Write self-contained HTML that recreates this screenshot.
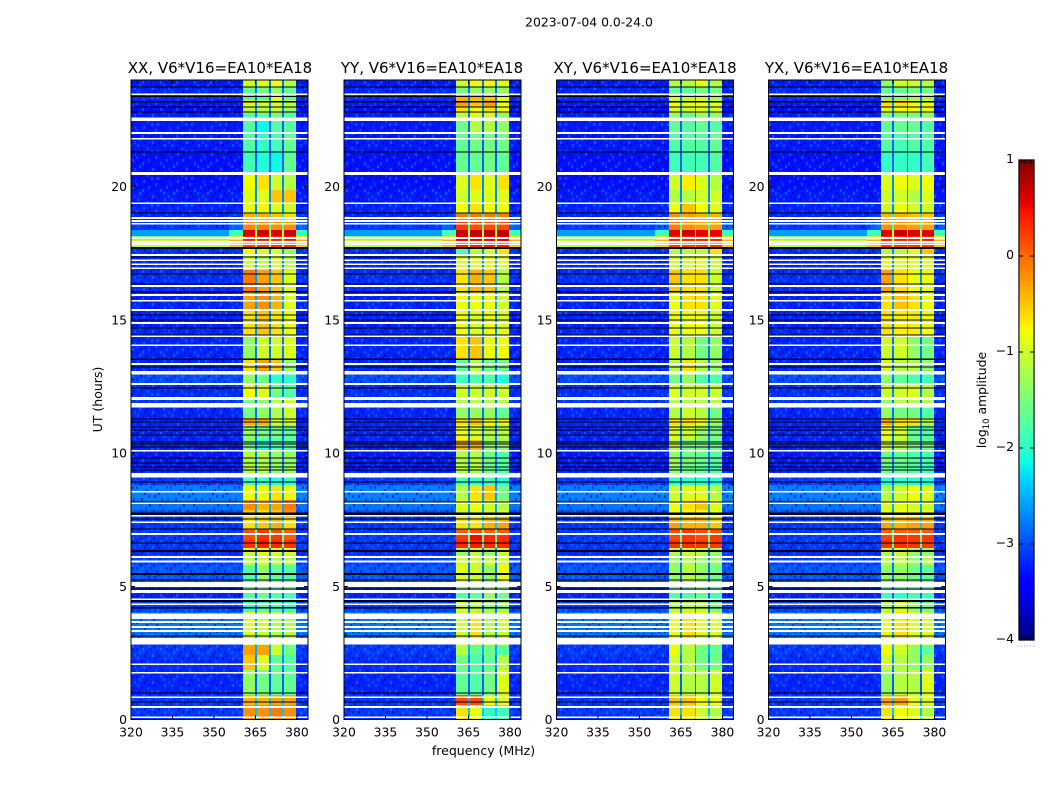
<!DOCTYPE html>
<html lang="en">
<head>
<meta charset="utf-8">
<title>2023-07-04 0.0-24.0</title>
<style>
  html, body { margin: 0; padding: 0; background: #fff; }
  svg { display: block; }
  text { font-family: "DejaVu Sans", "Liberation Sans", sans-serif; fill: #000; }
  .tick { font-size: 12.4px; }
  .title { font-size: 15px; text-anchor: middle; }
</style>
</head>
<body>
<svg id="chart" xmlns="http://www.w3.org/2000/svg" width="1050" height="800" viewBox="0 0 1050 800">
  <defs>
    <pattern id="speckle" patternUnits="userSpaceOnUse" width="34" height="27">
      <rect x="0" y="0" width="2" height="3" fill="#0000b0" opacity=".5"/>
      <rect x="6" y="0" width="2" height="3" fill="#0080ff" opacity=".55"/>
      <rect x="14" y="0" width="2" height="3" fill="#0000a0" opacity=".5"/>
      <rect x="24" y="0" width="2" height="3" fill="#00a0ff" opacity=".45"/>
      <rect x="30" y="0" width="2" height="3" fill="#0000c0" opacity=".45"/>
      <rect x="3" y="3" width="2" height="3" fill="#00a0ff" opacity=".45"/>
      <rect x="10" y="3" width="2" height="3" fill="#0000a0" opacity=".55"/>
      <rect x="20" y="3" width="2" height="3" fill="#0000b0" opacity=".5"/>
      <rect x="27" y="3" width="2" height="3" fill="#0088ff" opacity=".5"/>
      <rect x="8" y="6" width="2" height="3" fill="#0000b0" opacity=".5"/>
      <rect x="16" y="6" width="2" height="3" fill="#00b0ff" opacity=".45"/>
      <rect x="22" y="6" width="2" height="3" fill="#0000a0" opacity=".45"/>
      <rect x="32" y="6" width="2" height="3" fill="#0080ff" opacity=".45"/>
      <rect x="1" y="9" width="2" height="3" fill="#0088ff" opacity=".5"/>
      <rect x="12" y="9" width="2" height="3" fill="#0000c0" opacity=".5"/>
      <rect x="18" y="9" width="2" height="3" fill="#0000a0" opacity=".55"/>
      <rect x="28" y="9" width="2" height="3" fill="#00a8ff" opacity=".4"/>
      <rect x="5" y="12" width="2" height="3" fill="#0000a0" opacity=".55"/>
      <rect x="11" y="12" width="2" height="3" fill="#0090ff" opacity=".45"/>
      <rect x="25" y="12" width="2" height="3" fill="#0000b0" opacity=".5"/>
      <rect x="31" y="12" width="2" height="3" fill="#0000c0" opacity=".45"/>
      <rect x="2" y="15" width="2" height="3" fill="#0000b8" opacity=".45"/>
      <rect x="15" y="15" width="2" height="3" fill="#0090ff" opacity=".5"/>
      <rect x="21" y="15" width="2" height="3" fill="#00b8ff" opacity=".4"/>
      <rect x="29" y="15" width="2" height="3" fill="#0000a0" opacity=".5"/>
      <rect x="7" y="18" width="2" height="3" fill="#00a0ff" opacity=".45"/>
      <rect x="13" y="18" width="2" height="3" fill="#0000b0" opacity=".5"/>
      <rect x="23" y="18" width="2" height="3" fill="#0000a8" opacity=".5"/>
      <rect x="33" y="18" width="1" height="3" fill="#0088ff" opacity=".45"/>
      <rect x="0" y="21" width="2" height="3" fill="#0080ff" opacity=".4"/>
      <rect x="9" y="21" width="2" height="3" fill="#0000a0" opacity=".5"/>
      <rect x="19" y="21" width="2" height="3" fill="#0098ff" opacity=".45"/>
      <rect x="26" y="21" width="2" height="3" fill="#0000c0" opacity=".45"/>
      <rect x="4" y="24" width="2" height="3" fill="#0000b0" opacity=".5"/>
      <rect x="12" y="24" width="2" height="3" fill="#00a0ff" opacity=".4"/>
      <rect x="17" y="24" width="2" height="3" fill="#0000a8" opacity=".5"/>
      <rect x="30" y="24" width="2" height="3" fill="#0090ff" opacity=".45"/>
    </pattern>
  </defs>

  <text x="589" y="26.5" text-anchor="middle" style="font-size:12.4px">2023-07-04 0.0-24.0</text>

  <g id="panels"></g>

  <text class="title" x="220" y="73">XX, V6*V16=EA10*EA18</text>
  <text class="title" x="432" y="73">YY, V6*V16=EA10*EA18</text>
  <text class="title" x="645" y="73">XY, V6*V16=EA10*EA18</text>
  <text class="title" x="856.5" y="73">YX, V6*V16=EA10*EA18</text>

  <text x="483.5" y="755" text-anchor="middle" style="font-size:12.5px">frequency (MHz)</text>
  <text x="102" y="399.5" text-anchor="middle" transform="rotate(-90 102 399.5)" style="font-size:12.5px">UT (hours)</text>

  <g id="colorbar"></g>
  <text x="986" y="400" text-anchor="middle" transform="rotate(-90 986 400)" style="font-size:12.4px">log<tspan dy="3" style="font-size:8.5px">10</tspan><tspan dy="-3"> amplitude</tspan></text>
  <line x1="1018" y1="646" x2="1035" y2="646" stroke="#999" stroke-width="1" stroke-dasharray="1 2"/>
</svg>

<script>
// Tick values and labels
const xTicksMHz = [320, 335, 350, 365, 380];
const yTicksUT = [0, 5, 10, 15, 20];
const colorbarTicks = [-4, -3, -2, -1, 0, 1];
const colorbarTickLabels = ['\u22124', '\u22123', '\u22122', '\u22121', '0', '1'];

// Time segment boundaries (UT hours), top to bottom: 55 edges bound 54 rows
const segmentEdgesUT = [24,23.74,23.47,23.25,22.99,22.76,22.57,21.97,21.34,20.47,19.87,19.38,19.01,18.67,18.37,18.15,18.00,17.81,17.69,17.43,16.87,16.08,15.37,14.39,13.49,13.04,12.55,12.10,11.69,11.31,11.05,10.49,10.04,9.29,9.10,8.80,8.24,7.86,7.60,7.15,7.00,6.74,6.44,6.17,5.80,5.16,4.52,4.03,3.06,2.80,2.42,1.86,0.92,0.54,0];

// Frequency ranges (MHz)
const backgroundMHz = [320, 355.5];
const shoulderLeftMHz = [355.5, 360.5];
const shoulderRightMHz = [379.8, 384];
const subbandsMHz = [[360.5,364.7],[365.5,369.9],[370.5,374.7],[375.4,379.8]];
const gapsMHz = [[364.7,365.5],[369.9,370.5],[374.7,375.4]];

// log10 amplitude per time segment
const backgroundLevels = [-3.25,-3.2,-3.15,-3.25,-3.3,-3.25,-3.25,-3.25,-3.3,-3.3,-3.25,-3.2,-3.2,-3.1,-2.6,-1.5,-1.0,-1.1,-3.15,-3.2,-3.15,-3.2,-3.2,-3.2,-3.2,-3.0,-3.15,-3.1,-3.2,-3.2,-3.2,-3.2,-3.25,-3.1,-3.1,-2.75,-2.8,-3.0,-3.1,-3.1,-3.1,-3.1,-3.15,-3.05,-2.95,-3.2,-3.05,-2.8,-3.1,-3.1,-3.15,-3.2,-3.1,-3.1];
const shoulderLevels = [-3.25,-3.2,-3.15,-3.25,-3.3,-3.25,-3.25,-3.25,-3.3,-3.3,-3.25,-3.2,-3.1,-2.9,-1.9,-0.9,-0.4,-0.5,-3.15,-3.2,-3.15,-3.2,-3.2,-3.2,-3.2,-3.0,-3.15,-3.1,-3.2,-3.2,-3.2,-3.2,-3.25,-3.1,-3.1,-2.75,-2.8,-3.0,-3.1,-3.1,-3.1,-3.1,-3.15,-3.05,-2.95,-3.2,-3.05,-2.8,-3.1,-3.1,-3.15,-3.2,-3.1,-3.1];
const gapLevels = [-2.8,-2.8,-2.8,-2.7,-2.7,-2.8,-2.9,-2.9,-2.9,-2.7,-2.7,-2.7,-2.2,-1.9,-1.0,-1.0,-1.0,-1.2,-2.7,-2.7,-2.6,-2.6,-2.7,-2.8,-2.8,-2.8,-2.7,-2.8,-2.8,-2.6,-2.8,-2.8,-2.8,-2.8,-2.9,-2.6,-2.5,-2.6,-2.4,-1.7,-1.7,-1.6,-2.8,-2.8,-2.8,-2.9,-2.8,-2.6,-2.8,-2.5,-2.7,-2.9,-2.4,-2.4];

const xxLevels = [[-1.0,-0.9,-0.8,-1.15],[-1.65,-1.55,-1.35,-1.65],[-1.75,-1.85,-0.9,-1.75],[-0.9,-1.0,-0.9,-1.15],[-1.15,-1.15,-1.0,-1.35],[-1.75,-1.65,-1.55,-1.75],[-1.75,-2.15,-1.75,-1.75],[-1.75,-1.95,-1.85,-1.65],[-1.85,-2.05,-2.15,-1.65],[-0.8,-0.65,-1.0,-1.15],[-0.9,-0.9,-0.5,-0.5],[-0.9,-0.8,-0.9,-1.0],[-0.4,-0.4,-0.5,-0.65],[-0.15,-0.15,-0.2,-0.2],[0.6,0.68,0.6,0.65],[0.4,0.45,0.4,0.45],[0.28,0.28,0.28,0.28],[0.25,0.25,0.25,0.25],[-0.8,-1.0,-0.9,-1.35],[-1.0,-1.15,-0.9,-1.15],[-0.1,-0.3,-0.5,-0.9],[-0.3,-0.2,-0.4,-0.9],[-0.65,-0.5,-0.65,-0.8],[-1.35,-1.0,-1.0,-0.9],[-0.65,-0.3,-0.5,-1.35],[-1.35,-1.55,-1.95,-1.95],[-0.8,-0.9,-1.55,-1.75],[-1.55,-1.35,-1.15,-1.0],[-1.55,-1.35,-1.15,-1.0],[-0.4,-0.4,-1.0,-1.0],[-1.35,-1.55,-1.55,-1.65],[-1.55,-1.95,-1.75,-1.75],[-1.15,-1.15,-1.35,-1.35],[-1.15,-1.15,-1.35,-1.35],[-1.75,-1.85,-2.05,-1.95],[-0.8,-0.8,-0.65,-0.8],[-0.2,-0.4,-0.3,-0.1],[-0.5,-0.65,-0.5,-0.2],[-0.65,-0.5,-0.4,-0.65],[0.15,0.25,0.15,0.05],[0.15,0.3,0.25,0.05],[0.3,0.4,0.35,0.28],[-1.0,-0.8,-0.9,-0.9],[-1.15,-1.0,-1.15,-1.15],[-1.75,-1.35,-1.65,-1.75],[-1.75,-1.65,-1.75,-1.85],[-1.95,-1.75,-1.85,-1.95],[-0.9,-1.0,-1.15,-1.15],[-0.9,-1.0,-1.15,-1.15],[-0.3,-0.3,-1.0,-1.55],[-0.5,-0.9,-1.65,-1.75],[-1.35,-1.55,-1.65,-1.65],[-0.4,-0.4,-0.3,-0.3],[-0.2,-0.2,-0.1,-0.2]];
const yyLevels = [[-1.0,-0.8,-0.8,-0.9],[-1.55,-1.35,-1.35,-1.35],[-0.4,-0.4,-0.5,-0.9],[-0.3,-0.5,-0.3,-0.8],[-0.65,-0.8,-0.65,-0.8],[-1.15,-0.9,-1.0,-1.35],[-1.55,-1.15,-1.15,-1.35],[-1.65,-1.55,-1.55,-1.55],[-1.65,-1.65,-1.55,-1.65],[-0.9,-0.65,-0.9,-0.65],[-1.0,-0.9,-0.9,-0.9],[-0.8,-0.65,-0.8,-0.8],[-0.1,-0.1,-0.1,-0.1],[0.25,0.15,0.15,0.15],[0.68,0.72,0.72,0.72],[0.55,0.6,0.55,0.55],[0.5,0.52,0.5,0.5],[0.4,0.4,0.4,0.4],[-1.75,-1.15,-1.0,-0.65],[-0.9,-0.9,-0.9,-0.9],[-0.65,-0.4,-0.5,-1.15],[-0.8,-0.8,-0.8,-1.0],[-0.8,-0.9,-0.8,-0.9],[-0.65,-0.5,-0.8,-0.8],[-1.65,-1.15,-1.55,-1.55],[-1.85,-1.75,-1.75,-2.05],[-1.0,-1.0,-1.0,-1.0],[-1.15,-1.15,-1.15,-1.15],[-1.35,-1.35,-1.35,-1.65],[-0.65,-0.5,-0.8,-0.9],[-0.8,-0.9,-1.15,-1.15],[-0.4,-0.4,-1.35,-1.35],[-1.15,-1.15,-1.55,-1.75],[-1.15,-1.15,-1.55,-1.75],[-1.75,-1.95,-1.85,-2.05],[-1.15,-0.65,-0.5,-1.55],[-0.9,-0.8,-1.0,-1.15],[-1.0,-1.0,-1.0,-1.0],[-0.65,-0.65,-0.4,-0.3],[0.05,0.15,0.05,0.05],[0.25,0.5,0.35,0.3],[0.35,0.4,0.35,0.35],[-1.35,-1.0,-1.35,-1.0],[-1.0,-1.0,-1.0,-1.0],[-0.9,-1.0,-1.35,-0.8],[-1.75,-1.65,-1.35,-1.55],[-1.0,-1.15,-1.35,-1.35],[-1.0,-0.65,-1.15,-1.0],[-1.0,-0.65,-1.15,-1.0],[-1.15,-1.65,-1.55,-1.75],[-1.55,-1.75,-1.65,-1.15],[-1.65,-1.75,-1.55,-0.9],[0.15,0.15,-0.8,-0.9],[-0.65,-0.8,-1.95,-1.85]];
const xyLevels = [[-1.15,-1.15,-0.8,-1.15],[-1.65,-1.65,-1.55,-1.55],[-1.0,-1.15,-1.15,-1.35],[-0.8,-0.9,-0.8,-0.9],[-0.9,-1.0,-0.9,-1.0],[-1.35,-1.65,-1.35,-1.35],[-1.65,-1.75,-1.65,-1.75],[-1.75,-1.75,-1.75,-1.65],[-1.85,-1.85,-1.85,-1.75],[-1.0,-0.72,-0.9,-1.15],[-1.15,-1.15,-1.0,-1.0],[-0.8,-0.5,-0.8,-0.9],[-0.2,-0.3,-0.4,-0.4],[-0.1,-0.2,-0.3,-0.3],[0.55,0.65,0.55,0.55],[0.4,0.4,0.4,0.35],[0.3,0.3,0.3,0.3],[0.25,0.25,0.25,0.25],[-1.15,-1.15,-1.15,-0.65],[-1.0,-1.0,-0.9,-1.0],[-0.5,-0.65,-0.65,-1.0],[-0.8,-0.65,-0.65,-0.9],[-0.8,-0.8,-0.8,-1.0],[-1.0,-1.15,-1.55,-1.35],[-1.15,-0.65,-1.15,-1.35],[-1.55,-1.35,-1.75,-1.75],[-0.9,-1.0,-1.0,-1.0],[-1.15,-1.15,-1.15,-1.15],[-1.15,-1.0,-1.15,-1.55],[-0.65,-0.65,-0.8,-1.35],[-0.9,-1.0,-1.35,-1.55],[-1.15,-1.55,-1.55,-1.65],[-1.35,-1.55,-1.65,-1.75],[-1.35,-1.55,-1.65,-1.75],[-1.95,-1.95,-2.05,-2.05],[-1.0,-0.9,-0.9,-1.15],[-0.8,-0.65,-0.5,-0.9],[-0.8,-0.8,-0.8,-0.8],[-0.3,-0.4,-0.4,-0.5],[0.15,0.25,0.15,0.15],[0.15,0.25,0.15,0.25],[0.28,0.3,0.28,0.25],[-1.15,-1.0,-1.15,-1.35],[-1.35,-1.15,-1.35,-1.35],[-1.35,-1.15,-1.35,-1.55],[-1.75,-1.75,-1.65,-1.85],[-1.15,-1.15,-1.15,-1.55],[-0.8,-0.65,-0.9,-0.9],[-0.8,-0.65,-0.9,-0.9],[-0.8,-1.15,-1.55,-1.65],[-1.0,-1.15,-1.55,-1.55],[-1.0,-1.15,-1.15,-1.0],[-0.5,-0.5,-0.8,-0.8],[-0.65,-0.65,-1.0,-1.15]];
const yxLevels = [[-1.35,-1.0,-1.0,-1.15],[-1.65,-1.65,-1.55,-1.55],[-1.55,-1.55,-1.35,-1.35],[-0.65,-0.65,-0.8,-0.8],[-0.8,-0.8,-0.8,-0.8],[-1.55,-1.55,-1.55,-1.35],[-1.65,-1.65,-1.65,-1.75],[-1.75,-1.85,-1.75,-1.75],[-1.95,-1.95,-1.95,-1.85],[-0.9,-0.8,-0.9,-0.8],[-1.0,-1.0,-1.15,-0.9],[-1.0,-0.8,-1.0,-1.0],[-0.4,-0.4,-0.5,-0.5],[-0.2,-0.2,-0.3,-0.3],[0.6,0.68,0.6,0.6],[0.4,0.4,0.4,0.4],[0.3,0.3,0.3,0.3],[0.25,0.25,0.25,0.25],[-1.15,-1.15,-0.9,-0.5],[-0.9,-0.9,-0.9,-0.9],[-0.3,-0.65,-0.8,-0.8],[-0.65,-0.5,-0.65,-0.8],[-0.65,-0.72,-0.72,-0.8],[-1.0,-1.0,-1.35,-1.55],[-0.9,-1.15,-1.15,-1.35],[-1.35,-1.65,-1.75,-1.85],[-1.0,-1.0,-0.9,-1.15],[-1.35,-1.15,-1.15,-1.15],[-1.35,-1.55,-1.55,-1.75],[-0.4,-0.65,-0.65,-1.15],[-0.8,-1.0,-1.65,-1.75],[-1.0,-1.15,-1.55,-1.55],[-1.55,-1.65,-1.75,-1.85],[-1.55,-1.65,-1.75,-1.85],[-2.05,-1.95,-2.05,-2.05],[-1.15,-1.0,-0.8,-0.9],[-0.9,-0.9,-1.0,-1.0],[-0.8,-0.8,-0.8,-0.8],[-0.3,-0.4,-0.3,-0.3],[0.05,0.05,0.05,0.05],[0.2,0.3,0.25,0.25],[0.3,0.3,0.28,0.25],[-1.15,-1.0,-1.35,-1.35],[-1.15,-1.15,-1.35,-1.15],[-1.35,-1.35,-1.55,-1.65],[-1.85,-1.95,-1.85,-1.85],[-1.15,-1.0,-1.35,-1.55],[-0.8,-0.65,-0.9,-0.9],[-0.8,-0.65,-0.9,-0.9],[-0.8,-1.0,-1.35,-1.65],[-1.0,-1.15,-1.35,-1.35],[-1.35,-1.15,-1.15,-0.9],[-0.3,-0.3,-0.8,-0.9],[-0.65,-0.8,-0.9,-1.15]];

// Flagged time rows (UT hours): white = no data, black = below scale
const whiteRowsUT = [23.47,22.57,22.50,22.01,21.79,19.38,18.82,18.71,18.60,18.07,17.92,17.83,17.24,17.09,16.94,16.27,15.93,15.71,15.37,14.88,14.39,14.05,13.04,12.98,12.59,11.73,10.08,8.54,8.12,7.64,7.41,6.96,6.10,5.93,4.52,4.33,3.66,3.47,3.32,2.08,1.75,0.84,0.47,0.08];
const whiteBlocksUT = [[20.55,20.43],[17.47,17.39],[13.38,13.30],[12.10,11.99],[11.88,11.77],[9.25,9.08],[5.16,4.97],[4.86,4.75],[3.98,3.77],[3.06,2.81]];
const blackRowsUT = [23.74,23.38,22.99,22.80,21.30,19.01,17.36,16.72,16.34,15.18,14.99,14.70,14.43,13.23,12.44,11.28,11.16,10.98,10.86,10.68,10.41,10.34,10.23,9.81,9.63,9.48,9.36,8.91,8.16,7.52,7.15,6.62,5.24,4.90,3.13,1.00,0.66];
const blackBlocksUT = [[23.21,23.16],[17.73,17.66],[16.08,16.03],[13.55,13.49],[7.77,7.67],[6.36,6.29],[5.50,5.42],[4.48,4.41],[4.22,4.17]];
const whiteRowHours = 0.06;
const blackRowHours = 0.04;
const speckleExcludeUT = [18.45, 17.69];

const SVGNS = 'http://www.w3.org/2000/svg';
const panelLefts = [131, 344, 556.5, 768.5];
const panelWidth = 177;
const panelTop = 80;
const panelBottom = 719.5;
const panelLevels = [xxLevels, yyLevels, xyLevels, yxLevels];
const panelNames = ['xx', 'yy', 'xy', 'yx'];
const levelMin = -4;
const levelMax = 1;

function xScale(mhz, left) { return left + (mhz - 320) / 64 * panelWidth; }
function yScale(ut) { return panelBottom - ut / 24 * (panelBottom - panelTop); }

function lerpStops(t, stops) {
  if (t <= stops[0][0]) return stops[0][1];
  for (let i = 1; i < stops.length; i++) {
    if (t <= stops[i][0]) {
      const a = stops[i - 1], b = stops[i];
      return a[1] + (b[1] - a[1]) * (t - a[0]) / (b[0] - a[0]);
    }
  }
  return stops[stops.length - 1][1];
}
function jet(level) {
  const t = Math.max(0, Math.min(1, (level - levelMin) / (levelMax - levelMin)));
  const r = lerpStops(t, [[0, 0], [0.35, 0], [0.66, 1], [0.89, 1], [1, 0.5]]);
  const g = lerpStops(t, [[0, 0], [0.125, 0], [0.375, 1], [0.64, 1], [0.91, 0], [1, 0]]);
  const b = lerpStops(t, [[0, 0.5], [0.11, 1], [0.34, 1], [0.65, 0], [1, 0]]);
  return 'rgb(' + Math.round(r * 255) + ',' + Math.round(g * 255) + ',' + Math.round(b * 255) + ')';
}
function makeRect(parent, x, y, w, h, fill) {
  const el = document.createElementNS(SVGNS, 'rect');
  el.setAttribute('x', x);
  el.setAttribute('y', y);
  el.setAttribute('width', w);
  el.setAttribute('height', h);
  el.setAttribute('fill', fill);
  el.setAttribute('shape-rendering', 'crispEdges');
  parent.appendChild(el);
  return el;
}
function makeLine(parent, x1, y1, x2, y2) {
  const el = document.createElementNS(SVGNS, 'line');
  el.setAttribute('x1', x1);
  el.setAttribute('y1', y1);
  el.setAttribute('x2', x2);
  el.setAttribute('y2', y2);
  el.setAttribute('stroke', '#000');
  el.setAttribute('stroke-width', '1');
  el.setAttribute('shape-rendering', 'crispEdges');
  parent.appendChild(el);
  return el;
}
function makeText(parent, x, y, anchor, content) {
  const el = document.createElementNS(SVGNS, 'text');
  el.setAttribute('x', x);
  el.setAttribute('y', y);
  el.setAttribute('text-anchor', anchor);
  el.setAttribute('class', 'tick');
  el.textContent = content;
  parent.appendChild(el);
  return el;
}
function drawCell(g, left, range, i, level) {
  const x0 = Math.round(xScale(range[0], left));
  const x1 = Math.round(xScale(range[1], left));
  const y0 = yScale(segmentEdgesUT[i]);
  const y1 = yScale(segmentEdgesUT[i + 1]);
  const el = makeRect(g, x0, y0, x1 - x0, y1 - y0, jet(level));
  
  
}
function drawFlag(g, left, startUT, endUT, fill, name) {
  const el = makeRect(g, left, yScale(startUT), panelWidth, yScale(endUT) - yScale(startUT), fill);
  
  
}

const panelsRoot = document.getElementById('panels');
panelLefts.forEach(function (left, p) {
  const g = document.createElementNS(SVGNS, 'g');
  
  
  panelsRoot.appendChild(g);

  const levels = panelLevels[p];
  for (let i = 0; i < segmentEdgesUT.length - 1; i++) {
    drawCell(g, left, backgroundMHz, i, backgroundLevels[i]);
    drawCell(g, left, shoulderLeftMHz, i, shoulderLevels[i]);
    drawCell(g, left, shoulderRightMHz, i, shoulderLevels[i]);
    gapsMHz.forEach(function (range) { drawCell(g, left, range, i, gapLevels[i]); });
    subbandsMHz.forEach(function (range, b) { drawCell(g, left, range, i, levels[i][b]); });
  }

  // Speckle texture over the quiet background columns
  [[24, speckleExcludeUT[0]], [speckleExcludeUT[1], 0]].forEach(function (span) {
    [[320, 360.5], [379.8, 384]].forEach(function (range) {
      const x0 = Math.round(xScale(range[0], left));
      const x1 = Math.round(xScale(range[1], left));
      const el = makeRect(g, x0, yScale(span[0]), x1 - x0, yScale(span[1]) - yScale(span[0]), 'url(#speckle)');
      
      
    });
  });

  blackRowsUT.forEach(function (ut) { drawFlag(g, left, ut + blackRowHours / 2, ut - blackRowHours / 2, '#000', 'below-scale-row'); });
  blackBlocksUT.forEach(function (b) { drawFlag(g, left, b[0], b[1], '#000', 'below-scale-block'); });
  whiteRowsUT.forEach(function (ut) { drawFlag(g, left, ut + whiteRowHours / 2, ut - whiteRowHours / 2, '#fff', 'flagged-row'); });
  whiteBlocksUT.forEach(function (b) { drawFlag(g, left, b[0], b[1], '#fff', 'flagged-block'); });

  const frame = makeRect(g, left, panelTop, panelWidth, panelBottom - panelTop, 'none');
  frame.setAttribute('stroke', '#000');
  frame.setAttribute('stroke-width', '1');
  
  

  xTicksMHz.forEach(function (mhz) {
    const x = xScale(mhz, left);
    const t1 = makeLine(g, x, panelBottom, x, panelBottom - 4);
    
    
    const t2 = makeLine(g, x, panelTop, x, panelTop + 4);
    
    
    const lab = makeText(g, x, panelBottom + 17, 'middle', String(mhz));
    
    
  });
  yTicksUT.forEach(function (ut) {
    const y = yScale(ut);
    const t1 = makeLine(g, left, y, left + 4, y);
    
    
    const t2 = makeLine(g, left + panelWidth, y, left + panelWidth - 4, y);
    
    
    const lab = makeText(g, left - 4, y + 4.5, 'end', String(ut));
    
    
  });
});

// Colorbar
const cbRoot = document.getElementById('colorbar');
const cbLeft = 1019, cbWidth = 15, cbTop = 160, cbBottom = 640;
function cbScale(level) { return cbBottom - (level - levelMin) / (levelMax - levelMin) * (cbBottom - cbTop); }

const cbHalo = makeRect(cbRoot, cbLeft - 1, cbTop - 1, cbWidth + 2, cbBottom - cbTop + 2, '#bbb');


for (let y = cbTop; y < cbBottom; y++) {
  const level = levelMax - (y + 0.5 - cbTop) / (cbBottom - cbTop) * (levelMax - levelMin);
  const swatch = makeRect(cbRoot, cbLeft, y, cbWidth, 1, jet(level));
  
  
}
const cbFrame = makeRect(cbRoot, cbLeft, cbTop, cbWidth, cbBottom - cbTop, 'none');
cbFrame.setAttribute('stroke', '#000');


colorbarTicks.forEach(function (v, i) {
  const y = cbScale(v);
  const t1 = makeLine(cbRoot, cbLeft, y, cbLeft + 4, y);
  
  
  const t2 = makeLine(cbRoot, cbLeft + cbWidth, y, cbLeft + cbWidth - 4, y);
  
  
  const lab = makeText(cbRoot, cbLeft - 5, y + 3, 'end', colorbarTickLabels[i]);
  
  
});
for (let k = 1; k <= 4; k++) {
  const x = cbLeft + k * cbWidth / 5;
  const t1 = makeLine(cbRoot, x, cbTop, x, cbTop + 4);
  
  
  const t2 = makeLine(cbRoot, x, cbBottom, x, cbBottom - 4);
  
  
}
</script>
</body>
</html>
